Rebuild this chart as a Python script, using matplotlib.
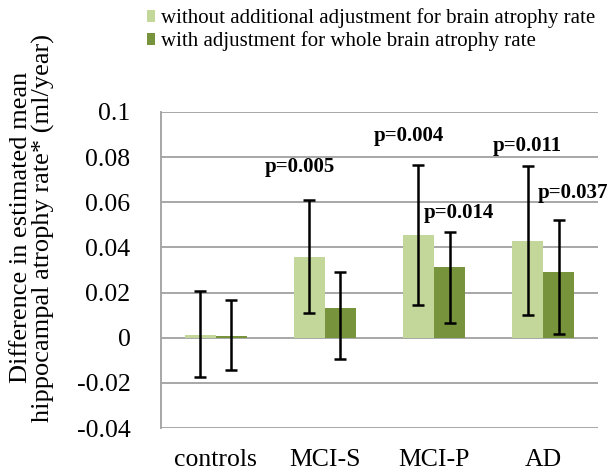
import numpy as np
import matplotlib
matplotlib.use("Agg")
import matplotlib.pyplot as plt

plt.rcParams['font.family'] = ['Liberation Serif', 'DejaVu Serif']

# data
groups = ['controls', 'MCI-S', 'MCI-P', 'AD']
without_adj = [0.0012, 0.0357, 0.0453, 0.0430]
without_lo = [-0.0176, 0.0110, 0.0145, 0.0101]
without_hi = [0.0206, 0.0609, 0.0766, 0.0761]
with_adj = [0.0007, 0.0132, 0.0313, 0.0292]
with_lo = [-0.0144, -0.0093, 0.0064, 0.0016]
with_hi = [0.0166, 0.0289, 0.0468, 0.0520]

# p-value labels: (group index, series 0/1, text, label y)
p_labels = [(1, 0, 'p=0.005', 0.0756), (2, 0, 'p=0.004', 0.0895),
            (2, 1, 'p=0.014', 0.0551), (3, 0, 'p=0.011', 0.0850),
            (3, 1, 'p=0.037', 0.0641)]
p_dx = [-0.09, -0.09, 0.08, 0.0, 0.13]

c_light = '#c4d79b'
c_dark = '#77933c'

fig = plt.figure(figsize=(6.1, 4.74), dpi=100)
ax = fig.add_axes([0.264, 0.097, 0.716, 0.667])

x = np.arange(len(groups))
w = 0.285
err_light = [np.array(without_adj) - np.array(without_lo), np.array(without_hi) - np.array(without_adj)]
err_dark = [np.array(with_adj) - np.array(with_lo), np.array(with_hi) - np.array(with_adj)]

ax.bar(x - w/2, without_adj, w, color=c_light, zorder=2,
       label='without additional adjustment for brain atrophy rate')
ax.bar(x + w/2, with_adj, w, color=c_dark, zorder=2,
       label='with adjustment for whole brain atrophy rate')
ax.errorbar(x - w/2, without_adj, yerr=err_light, fmt='none', ecolor='black',
            elinewidth=1.8, capsize=4, capthick=1.8, zorder=3)
ax.errorbar(x + w/2, with_adj, yerr=err_dark, fmt='none', ecolor='black',
            elinewidth=1.8, capsize=4, capthick=1.8, zorder=3)

for (g, s, txt, ty), dx in zip(p_labels, p_dx):
    bx = x[g] + (w/2 if s else -w/2) + dx
    ax.text(bx, ty, txt, ha='center', va='center', fontsize=15,
            fontweight='bold')

ax.set_ylim(-0.04, 0.1)
ax.set_xlim(-0.5, 3.5)
ax.set_yticks([-0.04, -0.02, 0, 0.02, 0.04, 0.06, 0.08, 0.1])
ax.set_yticklabels(['-0.04', '-0.02', '0', '0.02', '0.04', '0.06', '0.08', '0.1'])
ax.set_xticks(x)
ax.set_xticklabels(groups)
ax.tick_params(axis='y', length=0, labelsize=18.5, pad=22)
ax.tick_params(axis='x', length=0, labelsize=18.5, pad=15)
ax.yaxis.grid(True, color='#a0a0a0', linewidth=1.3, zorder=0)
ax.set_axisbelow(True)
for side in ['top', 'right', 'bottom']:
    ax.spines[side].set_visible(False)
ax.spines['left'].set_color('#a0a0a0')
ax.spines['left'].set_linewidth(1.3)

fig.text(0.054, 0.52, 'Difference in estimated mean\nhippocampal atrophy rate* (ml/year)',
         rotation=90, ha='center', va='center', multialignment='center',
         fontsize=19, linespacing=1.0)

fig.legend(loc='upper left', bbox_to_anchor=(0.21, 1.022), frameon=False,
           fontsize=15, handlelength=0.4, handleheight=0.5,
           handletextpad=0.3, labelspacing=0.15)

fig.savefig('out.png', dpi=100)
